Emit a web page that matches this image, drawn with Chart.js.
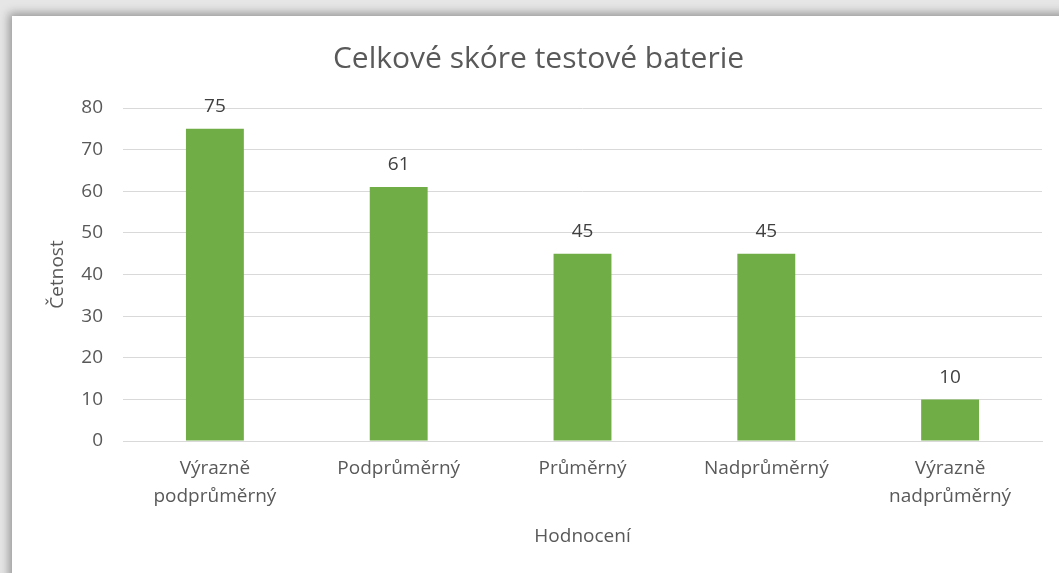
<!DOCTYPE html>
<html><head><meta charset="utf-8">
<script src="https://cdn.jsdelivr.net/npm/chart.js@4"></script>
<style>
html,body{margin:0;padding:0;width:1059px;height:573px;overflow:hidden;background:#e6e6e6;}
#card{position:absolute;left:12px;top:16px;width:1100px;height:600px;background:#fff;box-shadow:0 0 9px 3px rgba(0,0,0,0.35);}
#wrap{position:absolute;left:0;top:0;width:1059px;height:573px;}
</style></head>
<body>
<div id="card"></div>
<div id="wrap"><canvas id="c" width="1059" height="573"></canvas></div>
<script>
const categories = [["Výrazně","podprůměrný"],"Podprůměrný","Průměrný","Nadprůměrný",["Výrazně","nadprůměrný"]];
const values = [75, 61, 45, 45, 10];
const yTicks = [0,10,20,30,40,50,60,70,80];
const titleText = "Celkové skóre testové baterie";
const xTitle = "Hodnocení";
const yTitle = "Četnost";

const FONT = "'Open Sans', 'Liberation Sans', sans-serif";

const dataLabels = {
  id: 'dataLabels',
  afterDatasetsDraw(chart) {
    const ctx = chart.ctx;
    const meta = chart.getDatasetMeta(0);
    ctx.save();
    ctx.font = "19px " + FONT;
    ctx.fillStyle = "#404040";
    ctx.textAlign = "center";
    ctx.textBaseline = "middle";
    meta.data.forEach((bar, i) => {
      ctx.fillText(String(values[i]), bar.x, bar.y - 22);
    });
    ctx.restore();
  }
};

new Chart(document.getElementById('c'), {
  type: 'bar',
  data: {
    labels: categories,
    datasets: [{
      data: values,
      backgroundColor: '#70AD47',
      borderWidth: 0,
      categoryPercentage: 1,
      barPercentage: 0.315
    }]
  },
  plugins: [dataLabels],
  options: {
    responsive: false,
    animation: false,
    devicePixelRatio: 1,
    layout: { padding: { left: 35, right: 17, top: 0, bottom: 0 } },
    plugins: {
      legend: { display: false },
      tooltip: { enabled: false },
      title: {
        display: true,
        text: titleText,
        color: '#595959',
        font: { family: FONT, size: 30, weight: 'normal', lineHeight: 1.2 },
        padding: { top: 41, bottom: 31 }
      }
    },
    scales: {
      x: {
        afterFit(scale) { scale.height = 132; },
        grid: { display: false, drawTicks: false },
        border: { display: true, color: '#d9d9d9', width: 1 },
        ticks: {
          color: '#595959',
          font: { family: FONT, size: 19, lineHeight: 1.47 },
          padding: 14,
          maxRotation: 0,
          autoSkip: false
        },
        title: {
          display: true,
          text: xTitle,
          color: '#595959',
          font: { family: FONT, size: 19, lineHeight: 1.2 },
          padding: { top: 25, bottom: 25 }
        }
      },
      y: {
        min: 0,
        max: 80,
        afterBuildTicks(scale) { scale.ticks = yTicks.map(v => ({ value: v })); },
        afterFit(scale) { scale.width = 123 - 35; },
        grid: { color: '#d9d9d9', lineWidth: 1, drawTicks: false },
        border: { display: false },
        ticks: {
          color: '#595959',
          font: { family: FONT, size: 19 },
          padding: 20
        },
        title: {
          display: true,
          text: yTitle,
          color: '#595959',
          font: { family: FONT, size: 19, lineHeight: 1.2 },
          padding: { top: 11, bottom: 11 }
        }
      }
    }
  }
});
</script>
</body></html>
